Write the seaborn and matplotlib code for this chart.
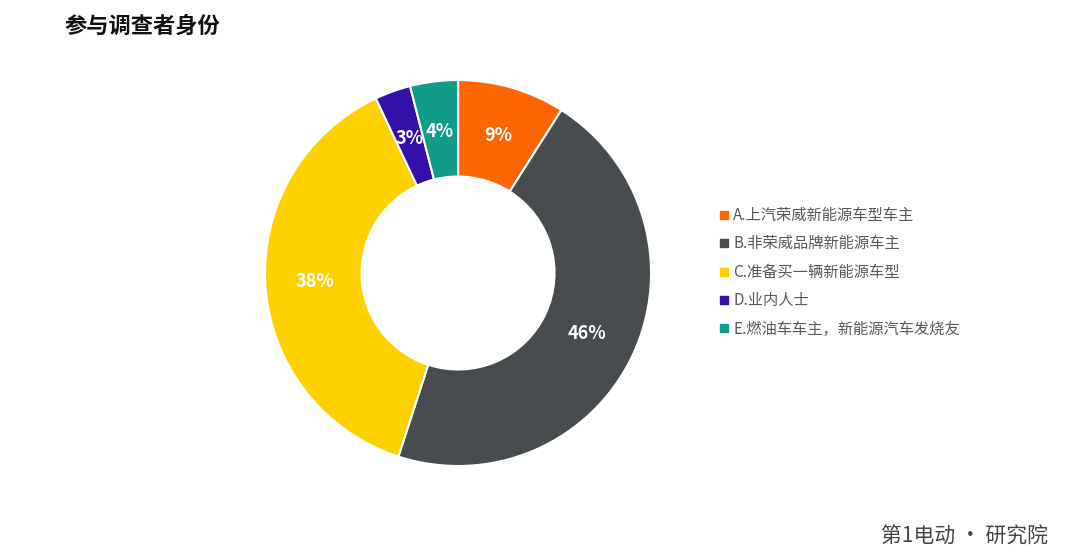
import matplotlib.pyplot as plt
import seaborn as sns
import numpy as np
from matplotlib.lines import Line2D

# dati
categorie = ["A.上汽荣威新能源车型车主", "B.非荣威品牌新能源车主", "C.准备买一辆新能源车型",
             "D.业内人士", "E.燃油车车主，新能源汽车发烧友"]
percentuali = [9, 46, 38, 3, 4]
colori = ["#FF6600", "#474C4F", "#FFD100", "#3410A8", "#0F9D87"]

sns.set_theme(style="white")
plt.rcParams['font.family'] = ['Noto Sans CJK SC', 'DejaVu Sans']

fig = plt.figure(figsize=(10.8, 5.48), dpi=100)
ax = fig.add_axes([0.2454, 0.1496, 0.3574, 0.7044])

wedges, testi = ax.pie(percentuali, colors=colori, startangle=90, counterclock=False,
                       radius=1, wedgeprops=dict(width=0.5, edgecolor="white", linewidth=1.5))
ax.set_xlim(-1, 1)
ax.set_ylim(-1, 1)
ax.set_aspect("equal")
ax.axis("off")

# etichette percentuali
cum = np.cumsum([0] + percentuali)
for i, p in enumerate(percentuali):
    ang = np.deg2rad(90 - 360 * (cum[i] + p / 2) / 100)
    r = 0.74
    ax.text(r * np.cos(ang), r * np.sin(ang), f"{p}%", ha="center", va="center",
            color="white", fontsize=13, fontweight="bold")

fig.text(0.06, 0.953, "参与调查者身份", fontsize=16, fontweight="bold", color="#111111",
         ha="left", va="center")

handles = [Line2D([0], [0], marker="s", linestyle="", markersize=6,
                  markerfacecolor=c, markeredgecolor=c) for c in colori]
fig.legend(handles, categorie, loc="center left", bbox_to_anchor=(0.652, 0.503),
           frameon=False, fontsize=11, labelcolor="#595959", handletextpad=0.2,
           labelspacing=0.75, handlelength=0.8)

fig.text(0.97, 0.0, "第1电动 • 研究院", fontsize=15, color="#444444",
         ha="right", va="bottom")

plt.savefig("out.png", dpi=100)
